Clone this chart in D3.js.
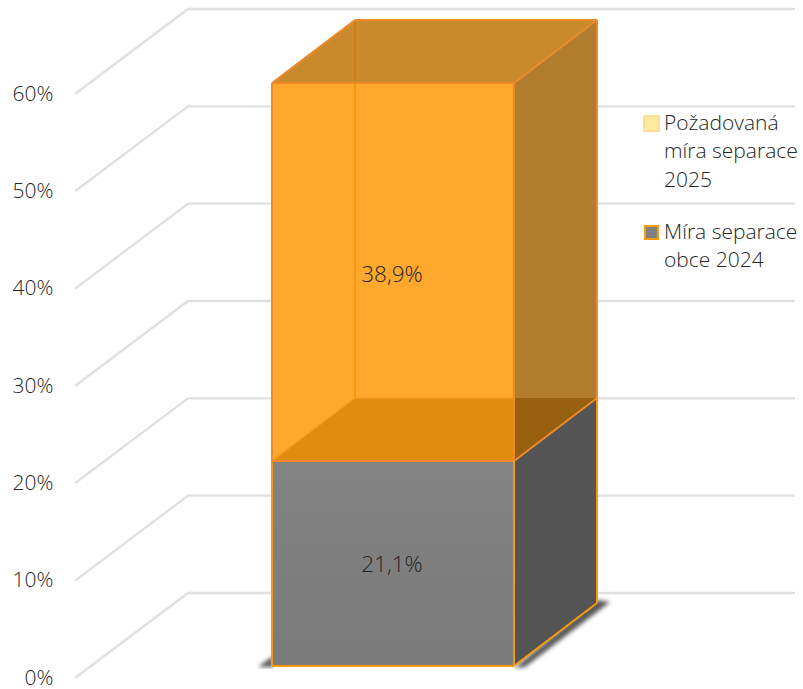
<!DOCTYPE html>
<html><head><meta charset="utf-8">
<script src="https://cdn.jsdelivr.net/npm/d3@7"></script>
<style>html,body{margin:0;padding:0;background:#fff}svg{display:block}text{font-family:"Open Sans",sans-serif;fill:#262626;font-size:21px;font-weight:300}</style>
</head><body><svg id="c" width="803" height="689"></svg>
<script>
const tickValues=[0,10,20,30,40,50,60];
const tickLabels=["0%","10%","20%","30%","40%","50%","60%"];
const seriesNames=["Míra separace obce 2024","Požadovaná míra separace 2025"];
const seriesValues=[21.1,38.9];
const seriesLabels=["21,1%","38,9%"];

const svg=d3.select("#c");
const gridFront=d3.scaleLinear().domain([0,60]).range([678,94]);
const gridBack=d3.scaleLinear().domain([0,60]).range([593,9]);
const y=d3.scaleLinear().domain([0,60]).range([666,83]);
const x=d3.scaleBand().domain(["obec"]).range([272,514]);
const dx=83,dy=-63;
const defs=svg.append("defs");
defs.append("filter").attr("id","blur").append("feGaussianBlur").attr("stdDeviation",2.2);
const g=defs.append("linearGradient").attr("id","gf").attr("x1",0).attr("y1",0).attr("x2",0).attr("y2",1);
g.append("stop").attr("offset",0).attr("stop-color","#838383");
g.append("stop").attr("offset",1).attr("stop-color","#7a7a7a");

// gridlines
const line=d3.line();
svg.append("g").selectAll("path").data(tickValues).join("path")
 .attr("d",v=>line([[75,gridFront(v)],[188,gridBack(v)],[795,gridBack(v)]]))
 .attr("fill","none").attr("stroke","#e0e0e0").attr("stroke-width",2.4);
// axis labels
svg.append("g").selectAll("text").data(tickValues).join("text")
 .attr("x",53.5).attr("y",v=>gridFront(v)+6.5).attr("text-anchor","end").text((v,i)=>tickLabels[i]);

const x0=x(x.domain()[0]),x1=x0+x.bandwidth();
const vBase=0,vMid=seriesValues[0],vTop=seriesValues[0]+seriesValues[1];
const poly=(pts,fill,stroke,sw)=>svg.append("path").attr("d",line(pts)+"Z").attr("fill",fill)
  .attr("stroke",stroke||"none").attr("stroke-width",sw||0).attr("stroke-linejoin","round");
const seg=(a,b,stroke,sw)=>svg.append("path").attr("d",line([a,b])).attr("fill","none").attr("stroke",stroke).attr("stroke-width",sw);

// shadow
poly([[258,667],[273,656],[273,667]],"#555").attr("filter","url(#blur)");
poly([[514,668],[525,667],[610,602],[597,600]],"#555").attr("filter","url(#blur)");

// grey series
const Y0=y(vBase),Y1=y(vMid),Y2=y(vTop);
poly([[x1,Y0],[x1+dx,Y0+dy],[x1+dx,Y1+dy],[x1,Y1]],"#545454");
poly([[x0,Y0],[x1,Y0],[x1,Y1],[x0,Y1]],"url(#gf)");

// orange series: back/top
poly([[x0,Y2],[x0+dx,Y2+dy],[x1+dx,Y2+dy],[x1,Y2]],"#c98a2b");
seg([x0+dx,Y2+dy],[x0+dx,Y2],"#cc8012",2);
// front
poly([[x0,Y1],[x1,Y1],[x1,Y2],[x0,Y2]],"#ffa82e");
// right side
poly([[x1,Y1],[x1+dx,Y1+dy],[x1+dx,Y2+dy],[x1,Y2]],"#b07c2d");
// bottom plane seen through the front
poly([[x0,Y1],[x0+dx,Y1+dy],[x1,Y1+dy],[x1,Y1]],"#e08c10");
poly([[x1,Y1],[x1,Y1+dy],[x1+dx,Y1+dy]],"#96600e");
seg([x0+dx,Y2],[x0+dx,Y1+dy],"#f79a12",2);
seg([x0+dx,Y1+dy],[x1,Y1+dy],"#f79a20",1.5);
seg([x0,Y1],[x0+dx,Y1+dy],"#f79a20",1.5);

// orange edges
const eo="#ee8a2c";
[[[x0,Y2],[x1,Y2]],[[x1,Y2],[x1,Y1]],[[x0,Y2],[x0,Y1]],[[x0,Y2],[x0+dx,Y2+dy]],[[x0+dx,Y2+dy],[x1+dx,Y2+dy]],
 [[x1,Y2],[x1+dx,Y2+dy]],[[x1+dx,Y2+dy],[x1+dx,Y1+dy]],[[x1,Y1],[x1+dx,Y1+dy]],[[x0,Y1],[x1,Y1]]]
 .forEach(s=>seg(s[0],s[1],eo,2));
// grey edges
const eg="#f59a0c";
[[[x0,Y1],[x0,Y0]],[[x0,Y0],[x1,Y0]],[[x1,Y1],[x1,Y0]],[[x1,Y0],[x1+dx,Y0+dy]],[[x1+dx,Y0+dy],[x1+dx,Y1+dy]]]
 .forEach(s=>seg(s[0],s[1],eg,2));

// data labels
svg.append("g").selectAll("text").data(seriesLabels).join("text")
 .attr("x",(x0+x1)/2-1).attr("text-anchor","middle").style("font-size","22.5px")
 .attr("y",(d,i)=>i===0?572:282).text(d=>d);

// legend
svg.append("rect").attr("x",644).attr("y",116).attr("width",15).attr("height",15).attr("fill","#ffeb9c").attr("stroke","#ffdc9a").attr("stroke-width",2);
svg.append("rect").attr("x",645).attr("y",226).attr("width",13).attr("height",13).attr("fill","#808080").attr("stroke","#ff9a0a").attr("stroke-width",2);
const legendLines=[["Požadovaná",130],["míra separace",158],["2025",187],["Míra separace",239],["obce 2024",267]];
svg.append("g").selectAll("text").data(legendLines).join("text").attr("x",664).attr("y",d=>d[1]).text(d=>d[0]);
</script></body></html>
